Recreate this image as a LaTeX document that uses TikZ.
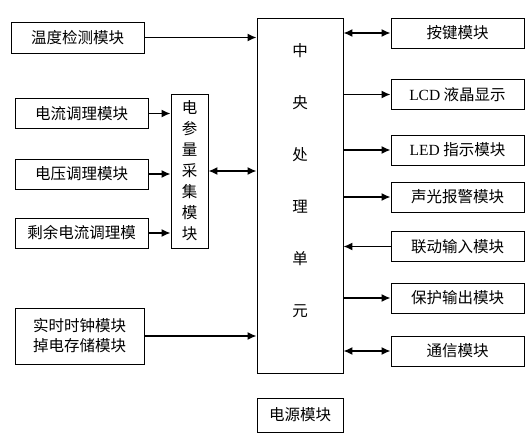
\documentclass[tikz,border=0pt]{standalone}
\usepackage{fontspec}
\setmainfont{Liberation Serif}
\newfontfamily\cjk{Noto Sans CJK SC}
\usetikzlibrary{arrows.meta}
\begin{document}
\begin{tikzpicture}[x=1pt,y=-1pt,every node/.style={draw,line width=0.8pt,
  inner sep=0pt,align=center,font=\cjk\fontsize{15.5}{20}\selectfont},
  modbox/.style={minimum width=133pt,minimum height=30pt},
  arr/.style={line width=1.7pt,-{Latex[length=9pt,width=8pt]}},
  darr/.style={line width=1.7pt,{Latex[length=9pt,width=8pt]}-{Latex[length=9pt,width=8pt]}}]
\useasboundingbox (0,0) rectangle (530,444);
% left side
\node[modbox,minimum height=31pt] (temp) at (77.5,37.5) {温度检测模块};
\node[modbox] (cur) at (81.5,113.5) {电流调理模块};
\node[modbox] (volt) at (81.5,174) {电压调理模块};
\node[modbox] (resid) at (81.5,233) {剩余电流调理模};
\node[minimum width=37pt,minimum height=154pt,
  font=\cjk\fontsize{15.5}{21}\selectfont] (coll) at (189.5,171)
  {电\\参\\量\\采\\集\\模\\块};
\node[minimum width=129pt,minimum height=56pt] (rtc) at (79.5,336)
  {实时时钟模块\\掉电存储模块};
% centre
\node[minimum width=86pt,minimum height=355pt] (cpu) at (300,195.5) {};
\node[draw=none,font=\cjk\fontsize{15.5}{52}\selectfont] (cputxt) at (300,181)
  {中\\央\\处\\理\\单\\元};
\node[minimum width=86pt,minimum height=34pt] (power) at (300,415) {电源模块};
% right side
\node[modbox] (key) at (457.5,33) {按键模块};
\node[modbox] (lcd) at (457.5,94.5) {{\rmfamily LCD} 液晶显示};
\node[modbox] (led) at (457.5,150) {{\rmfamily LED} 指示模块};
\node[modbox] (alarm) at (457.5,197) {声光报警模块};
\node[modbox] (linkin) at (457.5,246.5) {联动输入模块};
\node[modbox] (prot) at (457.5,298) {保护输出模块};
\node[modbox] (comm) at (457.5,351) {通信模块};
% connectors
\draw[arr] (temp) -- (temp -| cpu.west);
\draw[arr] (cur) -- (cur -| coll.west);
\draw[arr] (volt) -- (volt -| coll.west);
\draw[arr] (resid) -- (resid -| coll.west);
\draw[darr] (coll) -- (coll -| cpu.west);
\draw[arr] (rtc) -- (rtc -| cpu.west);
\draw[darr] (key -| cpu.east) -- (key);
\draw[arr] (lcd -| cpu.east) -- (lcd);
\draw[arr] (led -| cpu.east) -- (led);
\draw[arr] (alarm -| cpu.east) -- (alarm);
\draw[arr] (linkin) -- (linkin -| cpu.east);
\draw[arr] (prot -| cpu.east) -- (prot);
\draw[darr] (comm -| cpu.east) -- (comm);
\end{tikzpicture}
\end{document}
